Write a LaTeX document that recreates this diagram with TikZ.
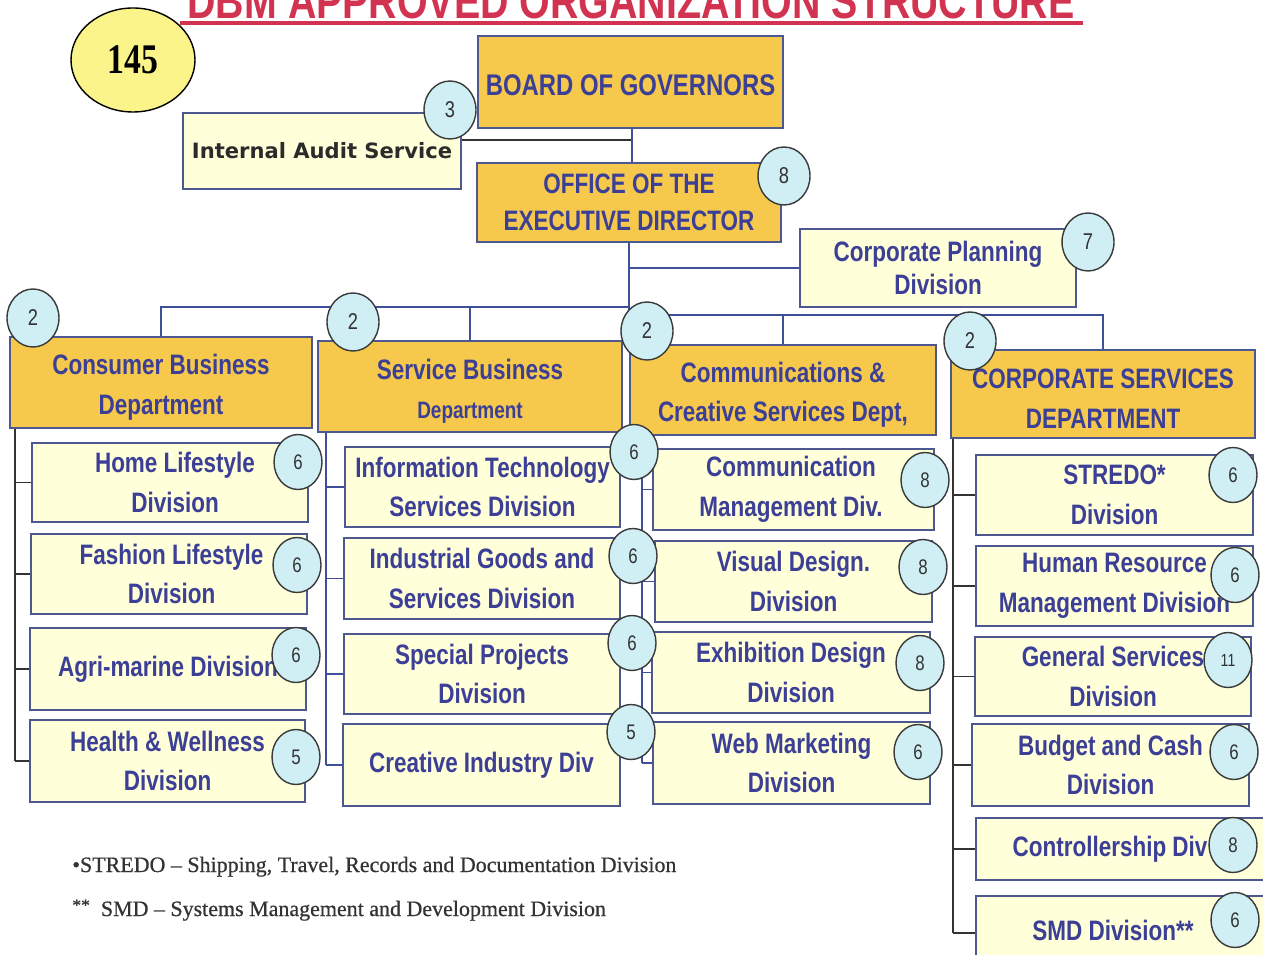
\documentclass[tikz,border=0pt]{standalone}
\usepackage{fontspec}
\setmainfont{Liberation Sans}
\newfontfamily\nar[FakeStretch=0.8]{Liberation Sans}
\newfontfamily\fnserif[FakeBold=0.6]{Liberation Serif}
\newfontfamily\serifnar[FakeStretch=0.8]{Liberation Serif}
\newfontfamily\verd{DejaVu Sans}
\usetikzlibrary{shapes.geometric}
\pgfdeclarelayer{bg}
\pgfsetlayers{bg,main}
\definecolor{gold}{HTML}{F6C94C}
\definecolor{lyel}{HTML}{FFFFDA}
\definecolor{bordc}{HTML}{4E5890}
\definecolor{txtc}{HTML}{3C3F96}
\definecolor{cyanc}{HTML}{CFEFF5}
\definecolor{numc}{HTML}{3A3A3A}
\definecolor{numtc}{HTML}{333333}
\definecolor{connc}{HTML}{3F4F9A}
\definecolor{darkc}{HTML}{333333}
\definecolor{titlec}{HTML}{D23350}
\definecolor{ellc}{HTML}{FBF48A}
\definecolor{iasc}{HTML}{2B2B2B}
\tikzset{
  box/.style={draw=bordc, line width=0.8pt, inner sep=0pt, align=center, text=txtc,
    font=\nar\bfseries\fontsize{16}{22.5}\selectfont},
  goldbox/.style={box, fill=gold},
  lbox/.style={box, fill=lyel},
  wh/.style 2 args={minimum width=#1*0.02cm, minimum height=#2*0.02cm},
  num/.style={ellipse, draw=numc, line width=0.8pt, fill=cyanc, minimum width=0.96cm,
    minimum height=1.1cm, inner sep=0pt, text=numtc, font=\nar\fontsize{12}{12}\selectfont},
  bignum/.style={num, minimum width=1.04cm, minimum height=1.16cm, font=\nar\fontsize{13}{13}\selectfont},
  conn/.style={draw=connc, line width=0.9pt},
  dconn/.style={draw=darkc, line width=0.9pt},
  foot/.style={anchor=base west, inner sep=0pt, text=darkc, font=\fnserif\fontsize{12.5}{14}\selectfont}
}
\begin{document}
\begin{tikzpicture}[x=0.02cm,y=-0.02cm]
\useasboundingbox (0,0) rectangle (1263,955);
\clip (0,0) rectangle (1263,955);
\begin{pgfonlayer}{bg}
\fill[white] (0,0) rectangle (1263,955);
\end{pgfonlayer}

% title (cut at the top edge, as in the reference)
\node[anchor=base, inner sep=0pt, text=titlec, font=\nar\bfseries\fontsize{28}{30}\selectfont] (title) at (631,19) {DBM APPROVED ORGANIZATION STRUCTURE};
\fill[titlec] (180,21) rectangle (1083,25.5);

% total
\node[ellipse, draw=black, line width=0.8pt, fill=ellc, minimum width=124*0.02cm, minimum height=104*0.02cm, inner sep=0pt, font=\serifnar\bfseries\fontsize{24}{24}\selectfont] (tot) at (133,60) {145};

% top boxes
\node[goldbox, wh={305}{92}, font=\nar\bfseries\fontsize{17}{20}\selectfont] (bog) at (630.5,82) {\\[-0.15cm]BOARD OF GOVERNORS};
\node[lbox, wh={278}{76}, text=iasc, font=\verd\bfseries\fontsize{12}{14}\selectfont] (ias) at (322,151) {Internal Audit Service};
\node[goldbox, wh={304}{79}, font=\nar\bfseries\fontsize{16}{21}\selectfont] (oed) at (629,202.5) {OFFICE OF THE\\EXECUTIVE DIRECTOR};
\node[lbox, wh={276}{78}, font=\nar\bfseries\fontsize{16}{18.5}\selectfont] (cpd) at (938,268) {Corporate Planning\\Division};

% departments
\node[goldbox, wh={302}{91}] (cbd) at (161,382.5) {\\[-0.2cm]Consumer Business\\Department};
\node[goldbox, wh={304}{91}] (sbd) at (470,386.5) {\\[-0.2cm]Service Business\\{\fontsize{13.5}{22}\selectfont Department}};
\node[goldbox, wh={306}{90}] (ccd) at (783,390) {\\[-0.2cm]Communications \&\\Creative Services Dept,};
\node[goldbox, wh={304}{88}] (csd) at (1103,394) {\\[-0.2cm]CORPORATE SERVICES\\DEPARTMENT};

% column 1
\node[lbox, wh={276}{79}] (hl) at (170,482.5) {\hspace*{0.2cm}Home Lifestyle\\\hspace*{0.2cm}Division};
\node[lbox, wh={276}{80}] (fl) at (169,574) {\hspace*{0.1cm}Fashion Lifestyle\\\hspace*{0.1cm}Division};
\node[lbox, wh={276}{82}] (am) at (168,669) {Agri-marine Division};
\node[lbox, wh={275}{82}] (hw) at (167.5,761) {Health \& Wellness\\Division};

% column 2
\node[lbox, wh={275}{80}] (it) at (482.5,487) {Information Technology\\Services Division};
\node[lbox, wh={276}{81}] (ig) at (482,578.5) {Industrial Goods and\\Services Division};
\node[lbox, wh={276}{80}] (sp) at (482,674) {Special Projects\\Division};
\node[lbox, wh={277}{82}] (ci) at (481.5,765) {Creative Industry Div};

% column 3
\node[lbox, wh={281}{81}] (cm) at (793.5,489.5) {\hspace*{-0.1cm}Communication\\\hspace*{-0.1cm}Management Div.};
\node[lbox, wh={277}{81}] (vd) at (793.5,581.5) {Visual Design.\\Division};
\node[lbox, wh={278}{81}] (ed) at (791,672.5) {Exhibition Design\\Division};
\node[lbox, wh={277}{82}] (wm) at (791.5,763) {Web Marketing\\Division};

% column 4
\node[lbox, wh={277}{80}] (st) at (1114.5,495) {STREDO*\\Division};
\node[lbox, wh={277}{80}] (hr) at (1114.5,586) {Human Resource\\Management Division};
\node[lbox, wh={276}{79}] (gs) at (1113,676.5) {General Services\\Division};
\node[lbox, wh={277}{82}] (bc) at (1110.5,765) {Budget and Cash\\Division};
\node[lbox, wh={294}{62}] (ct) at (1123,849) {\hspace*{-0.52cm}Controllership Div};
\node[lbox, wh={294}{74}] (smd) at (1123,933) {\hspace*{-0.4cm}\raisebox{0.1cm}{SMD Division**}};

% connectors
\coordinate (j1) at (632,140);
\coordinate (busL) at (629,307);
\coordinate (busR) at (629,315);
\coordinate (k1a) at (15,428);   \coordinate (k1b) at (15,761);
\coordinate (k2a) at (326,432);  \coordinate (k2b) at (326,765);
\coordinate (k3a) at (642,435);  \coordinate (k3b) at (642,763);
\coordinate (k4a) at (953,438);  \coordinate (k4b) at (953,933);
\begin{pgfonlayer}{bg}
\draw[dconn] (ias.east |- j1) -- (j1);
\draw[conn] (bog.south -| j1) -- (oed.north -| j1);
\draw[conn] (oed.south) -- (busR);
\draw[conn] (oed.south |- cpd.west) -- (cpd.west);
\draw[conn] (cbd.north) -- (cbd.north |- busL) -- (busL);
\draw[conn] (sbd.north) -- (sbd.north |- busL);
\draw[conn] (busR) -- (csd.north |- busR) -- (csd.north);
\draw[conn] (ccd.north) -- (ccd.north |- busR);
% brackets
\draw[dconn] (k1a) -- (k1b);
\foreach \n in {hl,fl,am,hw} \draw[dconn] (\n.west) -- (\n.west -| k1a);
\draw[conn] (k2a) -- (k2b);
\foreach \n in {it,ig,sp,ci} \draw[conn] (\n.west) -- (\n.west -| k2a);
\draw[conn] (k3a) -- (k3b);
\foreach \n in {cm,vd,ed,wm} \draw[conn] (\n.west) -- (\n.west -| k3a);
\draw[dconn] (k4a) -- (k4b);
\foreach \n in {st,hr,gs,bc,ct,smd} \draw[dconn] (\n.west) -- (\n.west -| k4a);
\end{pgfonlayer}

% number badges
\node[bignum] (n3) at (450,110) {3};
\node[bignum] (n8) at (784,176) {8};
\node[bignum] (n7) at (1088,242) {7};
\node[bignum] (d1) at (33,318) {2};
\node[bignum] (d2) at (353,322) {2};
\node[bignum] (d3) at (647,331) {2};
\node[bignum] (d4) at (970,341) {2};

\node[num] (a1) at (298,462) {6};
\node[num] (a2) at (297,565) {6};
\node[num] (a3) at (296,655) {6};
\node[num] (a4) at (296,757) {5};

\node[num] (b1) at (634,452) {6};
\node[num] (b2) at (633,556) {6};
\node[num] (b3) at (632,643) {6};
\node[num] (b4) at (631,732) {5};

\node[num] (c1) at (925,480) {8};
\node[num] (c2) at (923,567) {8};
\node[num] (c3) at (920,663) {8};
\node[num] (c4) at (918,752) {6};

\node[num] (e1) at (1233,475) {6};
\node[num] (e2) at (1235,575) {6};
\node[num, font=\nar\fontsize{10}{10}\selectfont] (e3) at (1228,660) {11};
\node[num] (e4) at (1234,752) {6};
\node[num] (e5) at (1233,845) {8};
\node[num] (e6) at (1235,920) {6};

% footnotes
\node[foot] (fn1) at (72,872) {•STREDO – Shipping, Travel, Records and Documentation Division};
\node[foot] (fn2) at (72,916) {\raisebox{0.1cm}{\fontsize{10}{10}\selectfont**}\ \ SMD – Systems Management and Development Division};
\end{tikzpicture}
\end{document}
